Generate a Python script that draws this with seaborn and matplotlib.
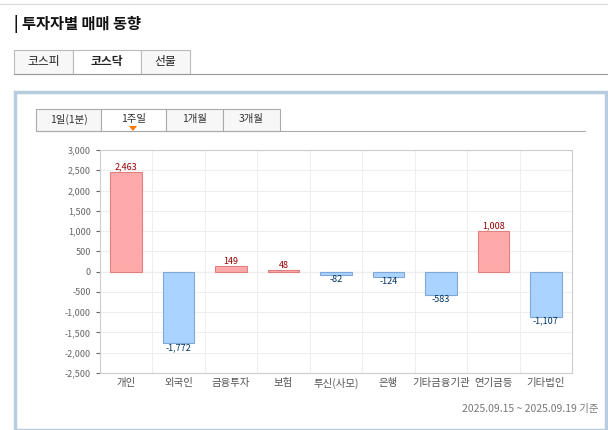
import numpy as np
import matplotlib.pyplot as plt
import seaborn as sns
from matplotlib.patches import Rectangle, Polygon
from matplotlib.ticker import FuncFormatter

sns.set_style("white")
plt.rcParams['font.family'] = ['Noto Sans CJK KR', 'DejaVu Sans']

categories = ['개인', '외국인', '금융투자', '보험', '투신(사모)', '은행', '기타금융기관', '연기금등', '기타법인']
values = [2463, -1772, 149, 48, -82, -124, -583, 1008, -1107]
market_tabs = ['코스피', '코스닥', '선물']
period_tabs = ['1일(1분)', '1주일', '1개월', '3개월']

fig = plt.figure(figsize=(6.08, 4.30), dpi=100)
W, H = 608, 430

def fx(x): return x / W
def fy(y): return 1 - y / H

# header
fig.text(fx(14), fy(24), '| 투자자별 매매 동향', fontsize=11, fontweight='bold', va='center', color='#111111')
fig.add_artist(plt.Line2D([0, 1], [fy(4), fy(4)], color='#dddddd', lw=1))
fig.add_artist(plt.Line2D([fx(14), 1], [fy(74), fy(74)], color='#999999', lw=0.8))
tab_x = [(14, 73), (73, 141), (141, 190)]
for (x0, x1), t in zip(tab_x, market_tabs):
    active = t == '코스닥'
    fig.add_artist(Rectangle((fx(x0), fy(74)), fx(x1 - x0), 24 / H, facecolor='white' if active else '#f7f7f7',
                             edgecolor='#bbbbbb', lw=0.8))
    fig.text(fx((x0 + x1) / 2), fy(62), t, fontsize=8.5, ha='center', va='center',
             fontweight='bold' if active else 'normal', color='#222222')

# chart box
fig.add_artist(Rectangle((fx(15), fy(430)), fx(591), (430 - 92) / H, facecolor='white', edgecolor='#b8cce0', lw=2.5))
fig.add_artist(plt.Line2D([fx(36), fx(585)], [fy(131), fy(131)], color='#aaaaaa', lw=0.8))
ptab_x = [(36, 101), (101, 166), (166, 223), (223, 280)]
for (x0, x1), t in zip(ptab_x, period_tabs):
    active = t == '1주일'
    fig.add_artist(Rectangle((fx(x0), fy(131)), fx(x1 - x0), 22 / H, facecolor='white' if active else '#f7f7f7',
                             edgecolor='#aaaaaa', lw=0.8))
    fig.text(fx((x0 + x1) / 2), fy(119), t, fontsize=7.5, ha='center', va='center', color='#333333')
fig.add_artist(Polygon([(fx(129), fy(126)), (fx(137), fy(126)), (fx(133), fy(131))], facecolor='#ff7700',
                       edgecolor='none', zorder=5))

ax = fig.add_axes([fx(100), fy(373), fx(472), (373 - 150) / H])
ax.set_zorder(10)
colors = ['#ffaaaa' if v > 0 else '#aad4ff' for v in values]
edges = ['#e07f7f' if v > 0 else '#7fa8d8' for v in values]
sns.barplot(x=categories, y=values, hue=categories, palette=colors, legend=False, width=0.6, ax=ax, saturation=1)
for p, e in zip(ax.patches, edges):
    p.set_edgecolor(e)
    p.set_linewidth(0.8)
for i, v in enumerate(values):
    ax.text(i, v, f'{v:,}', ha='center', va='bottom' if v > 0 else 'top', fontsize=6.5,
            color='#990000' if v > 0 else '#003366')
ax.set_ylim(-2500, 3000)
ax.set_yticks(np.arange(-2500, 3001, 500))
ax.yaxis.set_major_formatter(FuncFormatter(lambda v, _: f'{int(v):,}'))
ax.set_xlim(-0.5, len(categories) - 0.5)
ax.tick_params(axis='y', labelsize=6.5, colors='#666666', length=3, left=True)
ax.tick_params(axis='x', labelsize=7.5, colors='#555555', length=0)
ax.grid(axis='y', color='#eeeeee', lw=0.8)
for i in range(len(categories) + 1):
    ax.axvline(i - 0.5, color='#eeeeee', lw=0.8, zorder=0)
ax.axhline(0, color='#cccccc', lw=0.8, zorder=0)
for s in ax.spines.values():
    s.set_color('#cccccc')
ax.set_axisbelow(True)

fig.text(fx(598), fy(409), '2025.09.15 ~ 2025.09.19 기준', fontsize=7.5, ha='right', va='center', color='#777777')

fig.savefig('out.png', dpi=100)
